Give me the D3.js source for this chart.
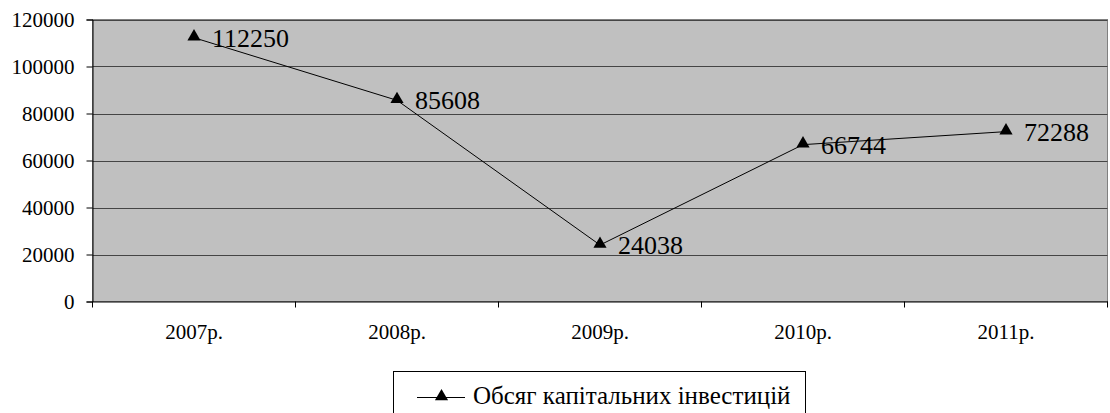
<!DOCTYPE html>
<html><head><meta charset="utf-8">
<script src="https://cdn.jsdelivr.net/npm/d3@7/dist/d3.min.js"></script>
<style>body{margin:0;background:#fff}svg{display:block}</style>
</head><body>
<svg id="c" width="1110" height="413"></svg>
<script>
const categories = ["2007р.", "2008р.", "2009р.", "2010р.", "2011р."];
const values = [112250, 85608, 24038, 66744, 72288];
const yTicks = [0, 20000, 40000, 60000, 80000, 100000, 120000];
const seriesName = "Обсяг капітальних інвестицій";

const FF = '"Liberation Serif"';
const svg = d3.select("#c");
const L = 92.5, R = 1107.5, T = 19.5, B = 301.5;

const x = d3.scaleBand().domain(categories).range([L, R]).padding(0);
const y = d3.scaleLinear().domain([0, 120000]).range([B, T]);

// plot background
svg.append("rect").attr("x", L).attr("y", T).attr("width", R - L).attr("height", B - T)
  .attr("fill", "#c0c0c0").attr("stroke", "#808080").attr("stroke-width", 1);

// gridlines
svg.append("g").selectAll("line").data(yTicks.filter(d => d > 0)).join("line")
  .attr("x1", L).attr("x2", R).attr("y1", d => Math.round(y(d)) + 0.5).attr("y2", d => Math.round(y(d)) + 0.5)
  .attr("stroke", "#454545").attr("stroke-width", 1);

// y axis
const ya = svg.append("g").attr("transform", `translate(${L},0)`)
  .call(d3.axisLeft(y).tickValues(yTicks).tickSize(6).tickPadding(12).tickFormat(d => String(d)));
ya.attr("font-family", null).attr("font-size", null);
ya.select(".domain").attr("stroke", "#000");
ya.selectAll(".tick line").attr("stroke", "#000");
ya.selectAll("text").style("font-family", FF).style("font-size", "21px").attr("fill", "#000");

// x axis
const xa = svg.append("g").attr("transform", `translate(0,${B})`)
  .call(d3.axisBottom(x).tickSize(0).tickPadding(0));
xa.attr("font-family", null).attr("font-size", null);
xa.select(".domain").attr("stroke", "#000");
xa.selectAll("text").style("font-family", FF).style("font-size", "21px").attr("fill", "#000")
  .attr("y", 37).attr("dy", 0);
// boundary ticks
const bounds = categories.map(c => x(c)).concat([x(categories[categories.length - 1]) + x.bandwidth()]);
svg.append("g").selectAll("line").data(bounds).join("line")
  .attr("x1", d => d).attr("x2", d => d).attr("y1", B).attr("y2", B + 6)
  .attr("stroke", "#000");

// line
const cx = d => x(d.c) + x.bandwidth() / 2;
const data = categories.map((c, i) => ({ c, v: values[i] }));
svg.append("path").datum(data)
  .attr("d", d3.line().x(cx).y(d => y(d.v)))
  .attr("fill", "none").attr("stroke", "#000").attr("stroke-width", 1);

const tri = d3.symbol().type(d3.symbolTriangle).size(75);
svg.append("g").selectAll("path").data(data).join("path")
  .attr("transform", d => `translate(${cx(d)},${y(d.v) - 1})`)
  .attr("d", tri).attr("fill", "#000");

svg.append("g").selectAll("text").data(data).join("text")
  .attr("x", d => cx(d) + 18).attr("y", d => y(d.v) + 9)
  .style("font-family", FF).style("font-size", "26px").attr("fill", "#000")
  .text(d => d.v);

// legend
const lg = svg.append("g");
lg.append("rect").attr("x", 393.5).attr("y", 371.5).attr("width", 412).attr("height", 60)
  .attr("fill", "#fff").attr("stroke", "#000").attr("stroke-width", 1);
lg.append("line").attr("x1", 417).attr("x2", 465).attr("y1", 397.5).attr("y2", 397.5)
  .attr("stroke", "#000");
lg.append("path").attr("transform", "translate(441.5,396.5)").attr("d", tri).attr("fill", "#000");
lg.append("text").attr("x", 473).attr("y", 404).style("font-family", FF).style("font-size", "25px")
  .attr("fill", "#000").text(seriesName);
</script>
</body></html>
